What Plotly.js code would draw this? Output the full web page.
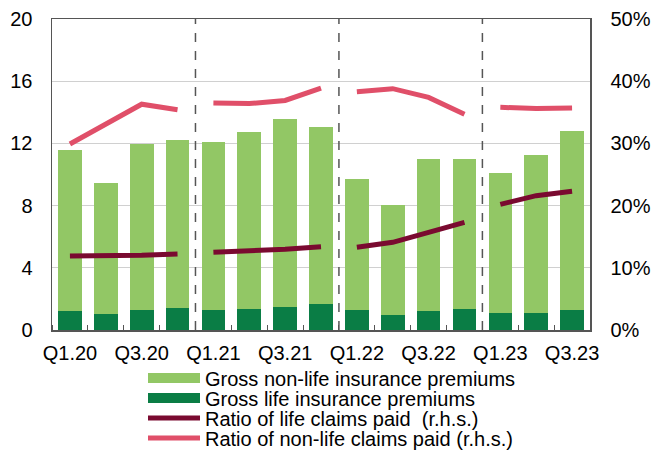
<!DOCTYPE html>
<html><head><meta charset="utf-8">
<script src="https://cdn.plot.ly/plotly-3.0.1.min.js"></script>
<style>body{margin:0;background:#fff}#chart{width:651px;height:450px}</style>
</head><body><div id="chart"></div>
<script>
const quarters = ["Q1.20","Q2.20","Q3.20","Q4.20","Q1.21","Q2.21","Q3.21","Q4.21","Q1.22","Q2.22","Q3.22","Q4.22","Q1.23","Q2.23","Q3.23"];
const lifePremiums = [1.22,1.03,1.27,1.44,1.29,1.35,1.48,1.67,1.29,0.94,1.20,1.33,1.12,1.12,1.29];
const nonLifePremiums = [10.33,8.43,10.68,10.77,10.77,11.40,12.08,11.36,8.39,7.09,9.77,9.66,8.99,10.12,11.50];
const lifeClaimsRatio = [11.9,11.9,12.0,12.2,12.5,12.7,13.0,13.4,13.3,14.1,15.7,17.3,20.2,21.6,22.3];
const nonLifeClaimsRatio = [29.9,33.1,36.3,35.4,36.5,36.4,36.9,38.9,38.3,38.8,37.4,34.7,35.8,35.6,35.7];

const idx = quarters.map((q,i)=>i);
const yearOf = q => q.split(".")[1];

function withGaps(vals){
  const xs=[], ys=[];
  quarters.forEach((q,i)=>{
    if(i>0 && yearOf(q)!==yearOf(quarters[i-1])){ xs.push(i-0.5); ys.push(null); }
    xs.push(i); ys.push(vals[i]);
  });
  return {xs, ys};
}
const lifeL = withGaps(lifeClaimsRatio);
const nonLifeL = withGaps(nonLifeClaimsRatio);

const boundaries = [];
quarters.forEach((q,i)=>{ if(i>0 && yearOf(q)!==yearOf(quarters[i-1])) boundaries.push(i-0.5); });

const C_LIFE = "#0A7D45", C_NONLIFE = "#92C765", C_LR = "#7A0A30", C_NLR = "#E04F69";

const traces = [
  {type:"bar", x:idx, y:lifePremiums, name:"Gross life insurance premiums", marker:{color:C_LIFE}, showlegend:false},
  {type:"bar", x:idx, y:nonLifePremiums, name:"Gross non-life insurance premiums", marker:{color:C_NONLIFE}, showlegend:false},
  {type:"scatter", mode:"lines", x:lifeL.xs, y:lifeL.ys, yaxis:"y2", connectgaps:false, name:"Ratio of life claims paid  (r.h.s.)", line:{color:C_LR, width:5}, legend:"legend3"},
  {type:"scatter", mode:"lines", x:nonLifeL.xs, y:nonLifeL.ys, yaxis:"y2", connectgaps:false, name:"Ratio of non-life claims paid (r.h.s.)", line:{color:C_NLR, width:5}, legend:"legend4"},
  {type:"scatter", mode:"lines", x:[null], y:[null], name:"Gross non-life insurance premiums", line:{color:C_NONLIFE, width:10}, legend:"legend", hoverinfo:"skip"},
  {type:"scatter", mode:"lines", x:[null], y:[null], name:"Gross life insurance premiums", line:{color:C_LIFE, width:10}, legend:"legend2", hoverinfo:"skip"}
];

const shapes = boundaries.map(b=>({type:"line", xref:"x", yref:"paper", x0:b, x1:b, y0:0, y1:1, line:{color:"#555", width:1.5, dash:"dash"}}));

const plotH = 450-19-120;
function legAt(py){ return {x:(143-52)/538, y:(330-py)/plotH, xanchor:"left", yanchor:"middle", font:{size:20}, itemwidth:52, bgcolor:"rgba(0,0,0,0)", borderwidth:0}; }

const layout = {
  width:651, height:450,
  margin:{l:52, r:61, t:19, b:120, autoexpand:false},
  barmode:"stack", bargap:0.34,
  font:{family:"Liberation Sans, Arial, sans-serif", size:20, color:"#000"},
  showlegend:true,
  legend:legAt(378),
  legend2:legAt(398),
  legend3:legAt(418),
  legend4:legAt(438),
  xaxis:{range:[-0.5, quarters.length-0.5], tickmode:"array", tickvals:idx.filter(i=>i%2===0), ticktext:quarters.filter((q,i)=>i%2===0), ticks:"", ticklabelstandoff:4, showgrid:false, zeroline:false, showline:true, linecolor:"#555", linewidth:1.5, mirror:true,
    minor:{tickmode:"linear", tick0:0.5, dtick:1, ticks:"inside", ticklen:5, tickcolor:"#555", showgrid:false}},
  yaxis:{range:[0,20], dtick:4, showgrid:true, gridcolor:"#d0d0d0", zeroline:false, showline:true, linecolor:"#555", linewidth:1.5, ticks:"", ticklabelstandoff:14},
  yaxis2:{range:[0,50], dtick:10, overlaying:"y", side:"right", ticksuffix:"%", showgrid:false, zeroline:false, showline:true, linecolor:"#555", linewidth:1.5, ticks:"", ticklabelstandoff:15},
  shapes:shapes,
  plot_bgcolor:"#fff", paper_bgcolor:"#fff"
};
Plotly.newPlot("chart", traces, layout, {displayModeBar:false, staticPlot:true});
</script></body></html>
